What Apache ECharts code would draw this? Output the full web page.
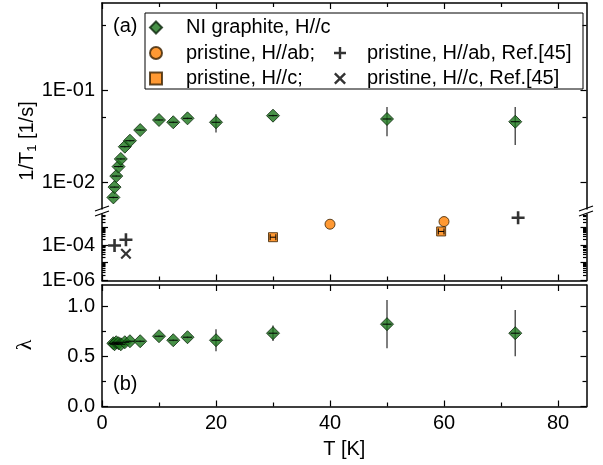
<!DOCTYPE html>
<html>
<head>
<meta charset="utf-8">
<script src="https://cdn.jsdelivr.net/npm/echarts@6/dist/echarts.min.js"></script>
<style>
html,body{margin:0;padding:0;background:#fff;}
#c{width:603px;height:465px;}
</style>
</head>
<body>
<div id="c"></div>
<script>
// ---------- data ----------
const temps = [2.0, 2.2, 2.5, 2.9, 3.3, 4.0, 4.9, 6.7, 10, 12.5, 15, 20, 30, 50, 72.5];
const invT1 = [0.0068, 0.0088, 0.0116, 0.0147, 0.0178, 0.0242, 0.0281, 0.0367, 0.0472, 0.0446, 0.0492, 0.0446, 0.0526, 0.0484, 0.0452];
const invT1Err = [0.0002, 0.0002, 0.0003, 0.0004, 0.0005, 0.0006, 0.0007, 0.0009, 0.0012, 0.0012, 0.0013, 0.010, 0.0015, 0.017, 0.020];
const tempErr = [0.8, 0.8, 0.8, 0.8, 0.8, 0.8, 0.8, 0.8, 0.8, 0.8, 0.8, 0.8, 0.8, 0.8, 0.8];
const lambda = [0.63, 0.62, 0.64, 0.63, 0.62, 0.64, 0.65, 0.65, 0.70, 0.66, 0.69, 0.66, 0.73, 0.82, 0.73];
const lambdaErr = [0.01, 0.01, 0.01, 0.01, 0.01, 0.01, 0.01, 0.01, 0.01, 0.01, 0.01, 0.11, 0.077, 0.24, 0.23];

const abT = [40, 60];
const abVal = [0.00148, 0.00209];
const cT = [30, 59.5];
const cVal = [0.000275, 0.00058];
const cTErr = [0.5, 0.5];
const refAbT = [2.2, 4.2, 73];
const refAbVal = [0.000093, 0.000196, 0.0034];
const refCT = [4.2];
const refCVal = [0.000032];

const xMajor = [0, 20, 40, 60, 80];
const xMinor = [10, 30, 50, 70];
const yTopLabels = [0.01, 0.1];
const yTopMinor = [0.05, 0.5];
const yLowLabels = [1e-6, 1e-4];
const yLowMajor = [1e-6, 1e-5, 1e-4, 1e-3];
const yLowMinor = [2e-6,3e-6,4e-6,5e-6,6e-6,7e-6,8e-6,9e-6,2e-5,3e-5,4e-5,5e-5,6e-5,7e-5,8e-5,9e-5,2e-4,3e-4,4e-4,5e-4,6e-4,7e-4,8e-4,9e-4,2e-3,3e-3,4e-3,5e-3];
const lamMajor = [0, 0.5, 1.0];
const lamMinor = [0.25, 0.75];

const legendMain = ['NI graphite, H//c', 'pristine, H//ab;', 'pristine, H//c;'];
const legendRef = ['pristine, H//ab, Ref.[45]', 'pristine, H//c, Ref.[45]'];

// ---------- style ----------
const FONT = 'Liberation Sans';
const FS = 20;
const GREEN = '#1a751a';
const ORANGE = '#ff8000';
const DIAMOND = 'path://M5,0L10,5L5,10L0,5Z';
const SQUARE = 'path://M0,0H10V10H0Z';
const PLUS = 'path://M4,0H6V4H10V6H6V10H4V6H0V4H4Z';
const CROSS = 'path://M0,1.4L1.4,0L5,3.6L8.6,0L10,1.4L6.4,5L10,8.6L8.6,10L5,6.4L1.4,10L0,8.6L3.6,5Z';

const zip = (a, b) => a.map((v, i) => [v, b[i]]);
const zip3 = (a, b, c) => a.map((v, i) => [v, b[i], c[i]]);

function expLabel(v) {
  const e = Math.round(Math.log10(v));
  return '1E' + (e < 0 ? '-' : '+') + String(Math.abs(e)).padStart(2, '0');
}

const lineStyle = {color: '#000', width: 1.5};

function xAx(grid, pos, ticks, len, showLine, labels) {
  return {
    type: 'value', gridIndex: grid, position: pos, min: 0, max: 85,
    axisLine: {show: showLine, onZero: false, lineStyle},
    axisTick: {show: true, inside: true, length: len, customValues: ticks, lineStyle: {color: '#000', width: 1.2}},
    axisLabel: labels ? {show: true, customValues: labels, fontFamily: FONT, fontSize: FS, color: '#000', margin: 7} : {show: false},
    splitLine: {show: false}
  };
}
function yAx(grid, pos, type, min, max, ticks, len, showLine, labels, fmt) {
  return {
    type: type, gridIndex: grid, position: pos, min: min, max: max,
    axisLine: {show: showLine, onZero: false, lineStyle},
    axisTick: {show: true, inside: true, length: len, customValues: ticks, lineStyle: {color: '#000', width: 1.2}},
    axisLabel: labels ? {show: true, customValues: labels, formatter: fmt, fontFamily: FONT, fontSize: FS, color: '#000', margin: 7} : {show: false},
    splitLine: {show: false}, minorTick: {show: false}
  };
}

const topMin = Math.pow(10, -2.2935), topMax = Math.pow(10, -0.0543);
const lowMin = 1e-6, lowMax = Math.pow(10, -2.254);

const xAxes = [
  xAx(0, 'top', xMajor, 6, true),            // 0
  xAx(0, 'top', xMinor, 4, false),           // 1
  xAx(1, 'bottom', xMajor, 6, true),         // 2
  xAx(1, 'bottom', xMinor, 4, false),        // 3
  xAx(2, 'top', xMajor, 6, true),            // 4
  xAx(2, 'top', xMinor, 4, false),           // 5
  Object.assign(xAx(2, 'bottom', xMajor, 6, true, xMajor), {
    name: 'T [K]', nameLocation: 'middle', nameGap: 33,
    nameTextStyle: {fontFamily: FONT, fontSize: FS, color: '#000'}
  }),                                        // 6
  xAx(2, 'bottom', xMinor, 4, false)         // 7
];
const yAxes = [
  yAx(0, 'left', 'log', topMin, topMax, yTopLabels, 6, true, yTopLabels, expLabel), // 0
  yAx(0, 'left', 'log', topMin, topMax, yTopMinor, 4, false),                       // 1
  yAx(0, 'right', 'log', topMin, topMax, yTopLabels, 6, true),                      // 2
  yAx(0, 'right', 'log', topMin, topMax, yTopMinor, 4, false),                      // 3
  yAx(1, 'left', 'log', lowMin, lowMax, yLowMajor, 6, true, yLowLabels, expLabel),  // 4
  yAx(1, 'left', 'log', lowMin, lowMax, yLowMinor, 3.5, false),                     // 5
  yAx(1, 'right', 'log', lowMin, lowMax, yLowMajor, 6, true),                       // 6
  yAx(1, 'right', 'log', lowMin, lowMax, yLowMinor, 3.5, false),                    // 7
  yAx(2, 'left', 'value', 0, 1.21, lamMajor, 6, true, lamMajor, v => v.toFixed(1)), // 8
  yAx(2, 'left', 'value', 0, 1.21, lamMinor, 4, false),                             // 9
  yAx(2, 'right', 'value', 0, 1.21, lamMajor, 6, true),                             // 10
  yAx(2, 'right', 'value', 0, 1.21, lamMinor, 4, false)                             // 11
];

function vErr(params, api) {
  const x = api.value(0), y = api.value(1), e = api.value(2);
  const lo = Math.max(y - e, y * 0.05);
  const p1 = api.coord([x, y + e]), p2 = api.coord([x, lo]);
  return {type: 'line', shape: {x1: p1[0], y1: p1[1], x2: p2[0], y2: p2[1]},
    style: {stroke: '#555', lineWidth: 1.5}};
}
function hErr(params, api) {
  const x = api.value(0), y = api.value(1), e = api.value(2);
  const p1 = api.coord([x - e, y]), p2 = api.coord([x + e, y]);
  return {type: 'line', shape: {x1: p1[0], y1: p1[1], x2: p2[0], y2: p2[1]},
    style: {stroke: '#000', lineWidth: 1}};
}
function hErrCap(params, api) {
  const x = api.value(0), y = api.value(1), e = api.value(2);
  const p1 = api.coord([x - e, y]), p2 = api.coord([x + e, y]);
  return {type: 'group', children: [
    {type: 'line', shape: {x1: p1[0], y1: p1[1], x2: p2[0], y2: p2[1]}, style: {stroke: '#000', lineWidth: 1}},
    {type: 'line', shape: {x1: p1[0], y1: p1[1] - 3, x2: p1[0], y2: p1[1] + 3}, style: {stroke: '#000', lineWidth: 1}},
    {type: 'line', shape: {x1: p2[0], y1: p2[1] - 3, x2: p2[0], y2: p2[1] + 3}, style: {stroke: '#000', lineWidth: 1}}
  ]};
}

const diamondStyle = {color: GREEN, borderColor: '#0b250b', borderWidth: 1};
const orangeStyle = {color: ORANGE, borderColor: '#3a2000', borderWidth: 1};

const series = [
  {type: 'custom', name: 'errA', xAxisIndex: 0, yAxisIndex: 0, z: 1, renderItem: vErr, data: zip3(temps, invT1, invT1Err), encode: {x: 0, y: 1}},
  {type: 'scatter', name: legendMain[0], xAxisIndex: 0, yAxisIndex: 0, z: 2, symbol: DIAMOND, symbolSize: 13, symbolKeepAspect: true, itemStyle: diamondStyle, data: zip(temps, invT1)},
  {type: 'custom', name: 'xerrA', xAxisIndex: 0, yAxisIndex: 0, z: 3, renderItem: hErr, data: zip3(temps, invT1, tempErr), encode: {x: 0, y: 1}},

  {type: 'scatter', name: legendMain[1], xAxisIndex: 2, yAxisIndex: 4, z: 2, symbol: 'circle', symbolSize: 10, symbolKeepAspect: true, itemStyle: orangeStyle, data: zip(abT, abVal)},
  {type: 'scatter', name: legendMain[2], xAxisIndex: 2, yAxisIndex: 4, z: 2, symbol: SQUARE, symbolSize: 9, symbolKeepAspect: true, itemStyle: orangeStyle, data: zip(cT, cVal)},
  {type: 'custom', name: 'xerrC', xAxisIndex: 2, yAxisIndex: 4, z: 3, renderItem: hErrCap, data: zip3(cT, cVal, cTErr), encode: {x: 0, y: 1}},
  {type: 'scatter', name: legendRef[0], xAxisIndex: 2, yAxisIndex: 4, z: 2, symbol: PLUS, symbolSize: 13, symbolKeepAspect: true, itemStyle: {color: '#000'}, data: zip(refAbT, refAbVal)},
  {type: 'scatter', name: legendRef[1], xAxisIndex: 2, yAxisIndex: 4, z: 2, symbol: CROSS, symbolSize: 11, symbolKeepAspect: true, itemStyle: {color: '#000'}, data: zip(refCT, refCVal)},

  {type: 'custom', name: 'errB', xAxisIndex: 6, yAxisIndex: 8, z: 1, renderItem: vErr, data: zip3(temps, lambda, lambdaErr), encode: {x: 0, y: 1}},
  {type: 'scatter', name: legendMain[0], xAxisIndex: 6, yAxisIndex: 8, z: 2, symbol: DIAMOND, symbolSize: 13, symbolKeepAspect: true, itemStyle: diamondStyle, data: zip(temps, lambda)},
  {type: 'custom', name: 'xerrB', xAxisIndex: 6, yAxisIndex: 8, z: 3, renderItem: hErr, data: zip3(temps, lambda, tempErr), encode: {x: 0, y: 1}}
];

const legendText = {fontFamily: FONT, fontSize: FS, color: '#000', lineHeight: 20};
const breakStyle = {stroke: '#000', lineWidth: 1.3};

const option = {
  animation: false,
  backgroundColor: '#fff',
  grid: [
    {left: 102, right: 16.5, top: 3, height: 206, outerBoundsMode: 'none'},
    {left: 102, right: 16.5, top: 214, height: 66.5, outerBoundsMode: 'none'},
    {left: 102, right: 16.5, top: 285, height: 121.5, outerBoundsMode: 'none'}
  ],
  xAxis: xAxes,
  yAxis: yAxes,
  legend: [
    {data: legendMain, orient: 'vertical', left: 149, top: 17.5, padding: 0, itemWidth: 50, itemHeight: 12,
      itemGap: 5.5, selectedMode: false, symbolKeepAspect: true, textStyle: legendText},
    {data: legendRef, orient: 'vertical', left: 334, top: 43, padding: 0, itemWidth: 44, itemHeight: 12,
      itemGap: 5.5, selectedMode: false, symbolKeepAspect: true, textStyle: legendText}
  ],
  graphic: [
    {type: 'rect', shape: {x: 145, y: 13, width: 438, height: 76}, style: {fill: 'none', stroke: '#000', lineWidth: 1}, z: 10},
    {type: 'text', x: 113, y: 26, style: {text: '(a)', font: FS + 'px ' + FONT, fill: '#000', verticalAlign: 'middle'}, z: 10},
    {type: 'text', x: 113, y: 384, style: {text: '(b)', font: FS + 'px ' + FONT, fill: '#000', verticalAlign: 'middle'}, z: 10},
    {type: 'text', x: 27, y: 141, rotation: Math.PI / 2,
      style: {text: '{t|1/T}{s|1}{t| [1/s]}', align: 'center', verticalAlign: 'middle', fill: '#000',
        rich: {t: {fontFamily: FONT, fontSize: FS, lineHeight: 22}, s: {fontFamily: FONT, fontSize: 13, lineHeight: 22, padding: [10, 0, 0, 0]}}}, z: 10},
    {type: 'text', x: 25, y: 345, rotation: Math.PI / 2,
      style: {text: 'λ', font: '22px "Liberation Serif"', fill: '#000', align: 'center', verticalAlign: 'middle'}, z: 10},
    // axis break marks
    {type: 'line', shape: {x1: 95, y1: 211, x2: 109, y2: 206}, style: breakStyle, z: 10},
    {type: 'line', shape: {x1: 95, y1: 216, x2: 109, y2: 211}, style: breakStyle, z: 10},
    {type: 'line', shape: {x1: 579, y1: 211, x2: 593, y2: 206}, style: breakStyle, z: 10},
    {type: 'line', shape: {x1: 579, y1: 216, x2: 593, y2: 211}, style: breakStyle, z: 10}
  ],
  series: series
};

const chart = echarts.init(document.getElementById('c'), null, {renderer: 'canvas'});
chart.setOption(option);
</script>
</body>
</html>
